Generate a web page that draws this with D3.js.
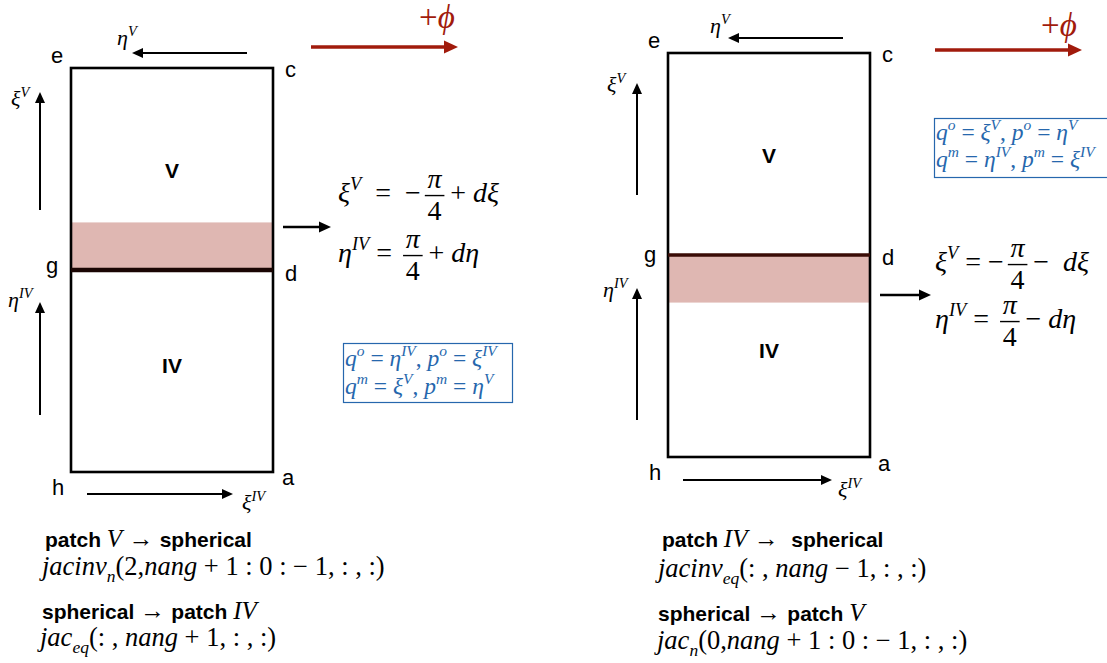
<!DOCTYPE html>
<html><head><meta charset="utf-8">
<script src="https://cdn.jsdelivr.net/npm/d3@7"></script>
<style>
html,body{margin:0;padding:0;background:#fff;}
svg{display:block;}
text{white-space:pre;}
</style></head>
<body>
<svg id="c" width="1107" height="663"></svg>
<script>
// ---------------- data ----------------
const panels = ["left", "right"];
const patchUpper = ["V", "V"];
const patchLower = ["IV", "IV"];
const cornerLabels = ["e", "c", "g", "d", "h", "a"];
const topAxisLabel = ["η^{V}", "η^{V}"];
const upperAxisLabel = ["ξ^{V}", "ξ^{V}"];
const lowerAxisLabel = ["η^{IV}", "η^{IV}"];
const bottomAxisLabel = ["ξ^{IV}", "ξ^{IV}"];
const phiLabel = ["+ϕ", "+ϕ"];
const bandSide = ["upper", "lower"];          // which patch holds the strip
const bandWidth = [0.37, 0.37];               // dξ, dη (rad)
const patchHalf = Math.PI / 4;                // patch coordinate range ±π/4
const eq1Pre = ["ξ^{V}  =  −", "ξ^{V} = −"];
const eq1Post = ["+ dξ", "−  dξ"];
const eq2Pre = ["η^{IV} = ", "η^{IV} = "];
const eq2Post = ["+ dη", "− dη"];
const fracNum = "π", fracDen = "4";
const boxLine1 = ["q^{o} = η^{IV}, p^{o} = ξ^{IV}", "q^{o} = ξ^{V}, p^{o} = η^{V}"];
const boxLine2 = ["q^{m} = ξ^{V}, p^{m} = η^{V}", "q^{m} = η^{IV}, p^{m} = ξ^{IV}"];
const bottomLines = [
  ["**patch **V → **spherical**", "jacinv_{n}(2,nang + 1 : 0 : − 1, : , :)", "**spherical **→ **patch **IV", "jac_{eq}(: , nang + 1, : , :)"],
  ["**patch **IV →  **spherical**", "jacinv_{eq}(: , nang − 1, : , :)", "**spherical **→ **patch **V", "jac_{n}(0,nang + 1 : 0 : − 1, : , :)"]
];

// ---------------- layout (pixels) ----------------
const layout = [
  { x:[71,273], y:[472,68],
    lab:{e:[51,63], c:[285,77], g:[46,273], d:[285,281], h:[52,495], a:[282,485]},
    etaV:{y:53,x1:247,x2:132,lx:117,ly:45},
    xiV:{x:40,y1:210,y2:92,lx:11,ly:106},
    etaIV:{x:40,y1:415,y2:302,lx:8,ly:307},
    xiIV:{y:494,x1:87,x2:233,lx:242,ly:510},
    phi:{y:47,x1:311,x2:458,lx:419,ly:28},
    dArrow:{y:227,x1:283,x2:331},
    eq1:{x:338,y:202}, eq2:{x:338,y:262},
    box:{x:343,y:343,w:169,h:59,l1:366,l2:394,tx:345},
    V:[172,178], IV:[172,373],
    b:[[45,547],[42,575],[42,619],[40,646]] },
  { x:[668,870], y:[457,53],
    lab:{e:[648,48], c:[882,62], g:[644,262], d:[882,265], h:[649,480], a:[878,471]},
    etaV:{y:38,x1:843,x2:728,lx:710,ly:33},
    xiV:{x:637,y1:195,y2:83,lx:607,ly:92},
    etaIV:{x:637,y1:420,y2:288,lx:603,ly:297},
    xiIV:{y:480,x1:683,x2:832,lx:838,ly:497},
    phi:{y:50,x1:935,x2:1082,lx:1041,ly:36},
    dArrow:{y:295,x1:880,x2:931},
    eq1:{x:935,y:271}, eq2:{x:935,y:328},
    box:{x:934,y:118,w:185,h:59,l1:140,l2:167,tx:936},
    V:[769,163], IV:[769,358],
    b:[[662,547],[658,577],[658,621],[657,649]] }
];

const RED = "#a11b0c", BLUE = "#2667ad", BAND = "#dfb7b2", DIV = ["#1a0503", "#3a0c06"];
const SERIF = "'Liberation Serif','Times New Roman',serif";
const SANS = "'Liberation Sans',Arial,Helvetica,sans-serif";

const svg = d3.select("#c");

// ---------- rich math text ----------
function parseRuns(spec){
  const out=[]; let i=0, buf="", font="math";
  const push=(t,pos)=>{ if(t) out.push({t,pos,font}); };
  while(i<spec.length){
    const ch=spec[i];
    if((ch==="^"||ch==="_") && spec[i+1]==="{"){
      push(buf,"base"); buf="";
      const j=spec.indexOf("}",i+2);
      push(spec.slice(i+2,j), ch==="^"?"sup":"sub");
      i=j+1; continue;
    }
    if(ch==="*" && spec[i+1]==="*"){ push(buf,"base"); buf=""; font = font==="math"?"bold":"math"; i+=2; continue; }
    buf+=ch; i++;
  }
  push(buf,"base");
  return out;
}
function splitStyle(t){
  return t.match(/[A-Za-z\u0370-\u03FF]+|[^A-Za-z\u0370-\u03FF]+/g)
          .map(s=>({s, italic:/[A-Za-z\u0370-\u03FF]/.test(s[0])}));
}
function mathText(g, x, y, spec, size, color, anchor, boldSize){
  const text=g.append("text").attr("x",x).attr("y",y).attr("fill",color||"#000")
    .attr("text-anchor",anchor||"start").attr("font-size",size);
  let shift=0;
  parseRuns(spec).forEach(r=>{
    const target = r.pos==="sup"? -0.42*size : r.pos==="sub"? 0.28*size : 0;
    const fs = r.pos==="base"? size : size*0.66;
    const parts = r.font==="bold"? [{s:r.t,bold:true}] : splitStyle(r.t);
    parts.forEach((p,k)=>{
      const ts=text.append("tspan").text(p.s);
      if(k===0 && target!==shift){ ts.attr("dy", target-shift); shift=target; }
      if(p.bold) ts.attr("font-family",SANS).attr("font-weight","bold").attr("font-size",boldSize||fs);
      else ts.attr("font-family",SERIF).attr("font-style",p.italic?"italic":"normal").attr("font-size",fs);
    });
  });
  return text;
}
function arrow(g, x1,y1,x2,y2, color, w, hl, hw){
  const a=Math.atan2(y2-y1,x2-x1), c=Math.cos(a), s=Math.sin(a);
  const bx=x2-hl*c, by=y2-hl*s;
  g.append("line").attr("x1",x1).attr("y1",y1).attr("x2",bx+1*c).attr("y2",by+1*s)
    .attr("stroke",color).attr("stroke-width",w);
  g.append("path").attr("d",`M${x2},${y2}L${bx-hw/2*s},${by+hw/2*c}L${bx+hw/2*s},${by-hw/2*c}Z`).attr("fill",color);
}
function fractionEq(g, x, y, pre, post, size){
  const t1 = mathText(g, x, y, pre, size);
  const w1 = t1.node().getComputedTextLength();
  const barW = 0.7*size, gap = 0.14*size;
  const cx = x + w1 + gap + barW/2;
  const axisY = y - 0.23*size;
  g.append("line").attr("x1",cx-barW/2).attr("x2",cx+barW/2).attr("y1",axisY).attr("y2",axisY)
    .attr("stroke","#000").attr("stroke-width",1.4);
  mathText(g, cx, axisY-0.27*size, fracNum, size, "#000", "middle");
  mathText(g, cx, axisY+0.87*size, fracDen, size, "#000", "middle");
  mathText(g, cx + barW/2 + gap*1.5, y, post, size);
}

panels.forEach((p,i)=>{
  const L = layout[i];
  const g = svg.append("g").attr("class","panel-"+p);
  // scales: x over patch coordinate, y over stacked coordinate (lower patch IV, upper patch V shifted by π/2)
  const xs = d3.scaleLinear().domain([-patchHalf, patchHalf]).range(L.x);
  const ys = d3.scaleLinear().domain([-patchHalf, 3*patchHalf]).range(L.y);
  const divS = patchHalf;
  // band
  const b0 = bandSide[i]==="upper" ? divS : divS - bandWidth[i];
  const b1 = bandSide[i]==="upper" ? divS + bandWidth[i] : divS;
  g.append("rect").attr("x",xs(-patchHalf)).attr("width",xs(patchHalf)-xs(-patchHalf))
    .attr("y",ys(b1)).attr("height",ys(b0)-ys(b1)).attr("fill",BAND);
  // box
  g.append("rect").attr("x",xs(-patchHalf)).attr("y",ys(3*patchHalf))
    .attr("width",xs(patchHalf)-xs(-patchHalf)).attr("height",ys(-patchHalf)-ys(3*patchHalf))
    .attr("fill","none").attr("stroke","#000").attr("stroke-width",2.6);
  // divider
  g.append("line").attr("x1",xs(-patchHalf)).attr("x2",xs(patchHalf)).attr("y1",ys(divS)).attr("y2",ys(divS))
    .attr("stroke",DIV[i]).attr("stroke-width", i===0?4.5:3.5);
  // patch names
  g.append("text").attr("x",L.V[0]).attr("y",L.V[1]).attr("text-anchor","middle")
    .attr("font-family",SANS).attr("font-weight","bold").attr("font-size",21).text(patchUpper[i]);
  g.append("text").attr("x",L.IV[0]).attr("y",L.IV[1]).attr("text-anchor","middle")
    .attr("font-family",SANS).attr("font-weight","bold").attr("font-size",21).text(patchLower[i]);
  // corner labels
  cornerLabels.forEach(c=>{
    g.append("text").attr("x",L.lab[c][0]).attr("y",L.lab[c][1]).attr("font-family",SANS)
      .attr("font-size",22).text(c);
  });
  // axis arrows
  arrow(g, L.etaV.x1, L.etaV.y, L.etaV.x2, L.etaV.y, "#000", 2, 11, 10);
  mathText(g, L.etaV.lx, L.etaV.ly, topAxisLabel[i], 22);
  arrow(g, L.xiV.x, L.xiV.y1, L.xiV.x, L.xiV.y2, "#000", 2, 11, 10);
  mathText(g, L.xiV.lx, L.xiV.ly, upperAxisLabel[i], 22);
  arrow(g, L.etaIV.x, L.etaIV.y1, L.etaIV.x, L.etaIV.y2, "#000", 2, 11, 10);
  mathText(g, L.etaIV.lx, L.etaIV.ly, lowerAxisLabel[i], 22);
  arrow(g, L.xiIV.x1, L.xiIV.y, L.xiIV.x2, L.xiIV.y, "#000", 2, 11, 10);
  mathText(g, L.xiIV.lx, L.xiIV.ly, bottomAxisLabel[i], 22);
  // +phi
  arrow(g, L.phi.x1, L.phi.y, L.phi.x2, L.phi.y, RED, 3.6, 14, 13);
  mathText(g, L.phi.lx, L.phi.ly, phiLabel[i], 33, RED);
  // d arrow + equations
  arrow(g, L.dArrow.x1, L.dArrow.y, L.dArrow.x2, L.dArrow.y, "#000", 2.6, 12, 11);
  fractionEq(g, L.eq1.x, L.eq1.y, eq1Pre[i], eq1Post[i], 28);
  fractionEq(g, L.eq2.x, L.eq2.y, eq2Pre[i], eq2Post[i], 28);
  // blue box
  g.append("rect").attr("x",L.box.x+0.5).attr("y",L.box.y+0.5).attr("width",L.box.w).attr("height",L.box.h)
    .attr("fill","none").attr("stroke",BLUE).attr("stroke-width",1.2);
  mathText(g, L.box.tx, L.box.l1, boxLine1[i], 23.5, BLUE);
  mathText(g, L.box.tx, L.box.l2, boxLine2[i], 23.5, BLUE);
  // bottom text
  bottomLines[i].forEach((s,k)=>{
    mathText(g, L.b[k][0], L.b[k][1], s, k%2===0?25:26.5, "#000", "start", 21);
  });
});
</script>
</body></html>
